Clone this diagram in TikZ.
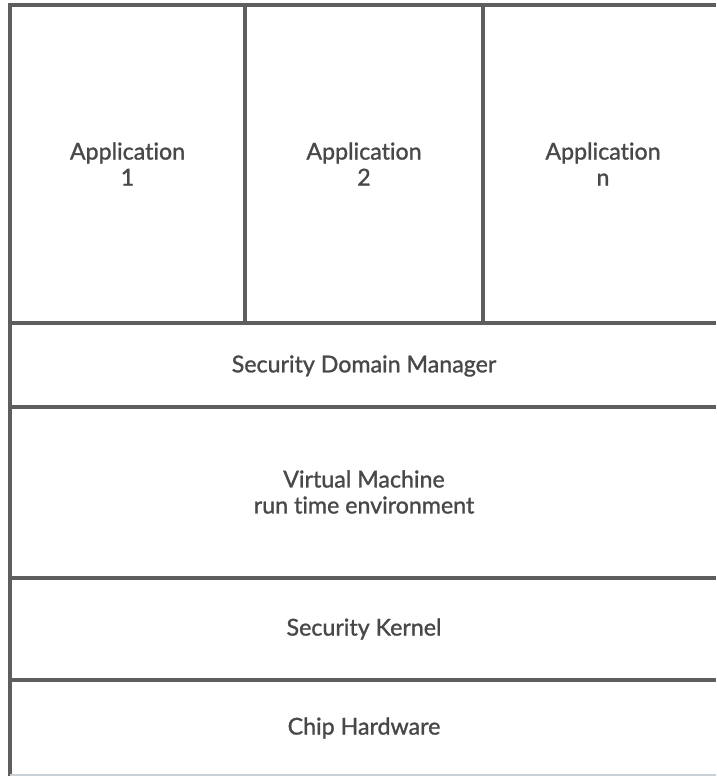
\documentclass[tikz,border=0pt]{standalone}
\usepackage{fontspec}
\setmainfont{Lato}[Ligatures=NoCommon,FakeBold=1.2]
\definecolor{rule}{HTML}{5E5E5E}
\definecolor{ink}{HTML}{484848}
\definecolor{edge}{HTML}{C9D0D6}
\begin{document}
\begin{tikzpicture}[x=1pt,y=-1pt,
  grid/.style={draw=rule,line width=3.2pt},
  label/.style={text=ink,font=\fontsize{23.2}{26}\selectfont,align=center,inner sep=0pt}]
\useasboundingbox[fill=white] (0,0) rectangle (716,776);
% outer frame (open on the right) and layer dividers
\draw[grid] (716,5) -- (10,5) -- (10,776);
\draw[grid] (10,323) -- (716,323);
\draw[grid] (10,407) -- (716,407);
\draw[grid] (10,578) -- (716,578);
\draw[grid] (10,680) -- (716,680);
\draw[edge,line width=2pt] (10,775) -- (716,775);
% application columns
\draw[grid] (245,5) -- (245,323);
\draw[grid] (483,5) -- (483,323);
% labels
\node[label] (app1) at (127.5,164) {Application\\1};
\node[label] (app2) at (364,164) {Application\\2};
\node[label] (appn) at (603,164) {Application\\n};
\node[label] (sdm) at (364,366) {Security Domain Manager};
\node[label] (vm) at (364,492) {Virtual Machine\\run time environment};
\node[label] (sk) at (364,629) {Security Kernel};
\node[label] (hw) at (364,728) {Chip Hardware};
\end{tikzpicture}
\end{document}
